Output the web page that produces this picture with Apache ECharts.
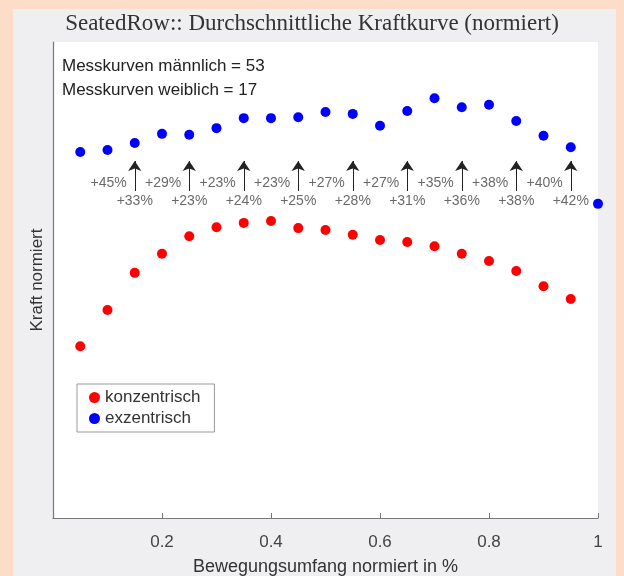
<!DOCTYPE html>
<html>
<head>
<meta charset="utf-8">
<script src="https://cdn.jsdelivr.net/npm/echarts@6/dist/echarts.min.js"></script>
<style>html,body{margin:0;padding:0;background:#fddcc8;}#c{width:624px;height:576px;}</style>
</head>
<body>
<div id="c"></div>
<script>
var xPos = [0.05,0.1,0.15,0.2,0.25,0.3,0.35,0.4,0.45,0.5,0.55,0.6,0.65,0.7,0.75,0.8,0.85,0.9,0.95,1.0];
var exzentrisch = [0.769,0.773,0.788,0.807,0.805,0.819,0.840,0.840,0.842,0.853,0.849,0.824,0.855,0.882,0.863,0.868,0.834,0.803,0.779,0.660];
var konzentrisch = [0.361,0.437,0.515,0.555,0.592,0.611,0.620,0.624,0.609,0.605,0.595,0.584,0.580,0.571,0.555,0.540,0.519,0.487,0.460];
var arrowX = [0.15,0.25,0.35,0.45,0.55,0.65,0.75,0.85,0.95];
var upperLabels = ['+45%','+29%','+23%','+23%','+27%','+27%','+35%','+38%','+40%'];
var lowerLabels = ['+33%','+23%','+24%','+25%','+28%','+31%','+36%','+38%','+42%'];
var xTicks = [0.2,0.4,0.6,0.8,1];
var arrowFrom = 0.687, arrowTo = 0.750, upperY = 0.704, lowerY = 0.665;

var chart = echarts.init(document.getElementById('c'));
var font = 'Liberation Sans, Arial, sans-serif';
chart.setOption({
  backgroundColor: '#fddcc8',
  animation: false,
  title: {
    text: 'SeatedRow:: Durchschnittliche Kraftkurve (normiert)',
    left: 'center', top: 7,
    textStyle: {fontFamily: 'Liberation Serif, serif', fontWeight: 'normal', fontSize: 23, color: '#333'}
  },
  graphic: [
    {type: 'rect', z: -10, silent: true, shape: {x: 13, y: 9, width: 603, height: 580}, style: {fill: '#efeff1'}},
    {type: 'text', z: 10, left: 62, top: 58, style: {text: 'Messkurven männlich = 53', font: '17px Liberation Sans, Arial', fill: '#222'}},
    {type: 'text', z: 10, left: 62, top: 82, style: {text: 'Messkurven weiblich = 17', font: '17px Liberation Sans, Arial', fill: '#222'}}
  ],
  grid: {left: 53, right: 26, top: 42, bottom: 58, show: true, backgroundColor: '#ffffff', borderWidth: 0, outerBoundsMode: 'none', containLabel: false},
  legend: {
    orient: 'vertical', left: 77, top: 384, itemGap: 4,
    padding: [5, 14, 5, 12],
    borderColor: '#999', borderWidth: 1, backgroundColor: '#fff',
    icon: 'circle', itemWidth: 11, itemHeight: 11,
    textStyle: {fontFamily: font, fontSize: 17, color: '#333'},
    data: ['konzentrisch', 'exzentrisch']
  },
  xAxis: {
    type: 'value', min: 0, max: 1, interval: 0.2,
    name: 'Bewegungsumfang normiert in %', nameLocation: 'middle', nameGap: 40,
    nameTextStyle: {fontFamily: font, fontSize: 18, color: '#333'},
    axisLine: {show: true, lineStyle: {color: '#777', width: 1.2}},
    axisTick: {show: true, inside: true, length: 5, lineStyle: {color: '#777'}},
    axisLabel: {fontFamily: font, fontSize: 17, color: '#444', margin: 16,
      formatter: function (v) { return xTicks.indexOf(v) >= 0 ? String(v) : ''; }},
    splitLine: {show: false}
  },
  yAxis: {
    type: 'value', min: 0, max: 1,
    name: 'Kraft normiert', nameLocation: 'middle', nameGap: 7,
    nameTextStyle: {fontFamily: font, fontSize: 17, color: '#333'},
    axisLine: {show: true, lineStyle: {color: '#777', width: 1.2}},
    axisTick: {show: false}, axisLabel: {show: false}, splitLine: {show: false}
  },
  series: [
    {
      name: 'konzentrisch', type: 'scatter', symbolSize: 10,
      itemStyle: {color: '#ff0000', opacity: 1},
      data: konzentrisch.map(function (v, i) { return [xPos[i], v]; })
    },
    {
      name: 'exzentrisch', type: 'scatter', symbolSize: 10,
      itemStyle: {color: '#0000ff', opacity: 1},
      data: exzentrisch.map(function (v, i) { return [xPos[i], v]; })
    },
    {
      name: 'arrows', type: 'line', silent: true, showSymbol: false,
      data: [],
      markLine: {
        silent: true, symbol: ['none', 'arrow'], symbolSize: 10,
        label: {show: false},
        lineStyle: {color: '#222', width: 1, type: 'solid'},
        data: arrowX.map(function (x) { return [{coord: [x, arrowFrom]}, {coord: [x, arrowTo]}]; })
      }
    },
    {
      name: 'upper', type: 'scatter', symbolSize: 0, silent: true,
      label: {show: true, position: 'left', distance: 8, fontFamily: font, fontSize: 14, color: '#444',
        formatter: function (p) { return upperLabels[p.dataIndex]; }},
      data: arrowX.map(function (x) { return [x, upperY]; })
    },
    {
      name: 'lower', type: 'scatter', symbolSize: 0, silent: true,
      label: {show: true, position: 'inside', fontFamily: font, fontSize: 14, color: '#444',
        formatter: function (p) { return lowerLabels[p.dataIndex]; }},
      data: arrowX.map(function (x) { return [x, lowerY]; })
    }
  ]
});
</script>
</body>
</html>
